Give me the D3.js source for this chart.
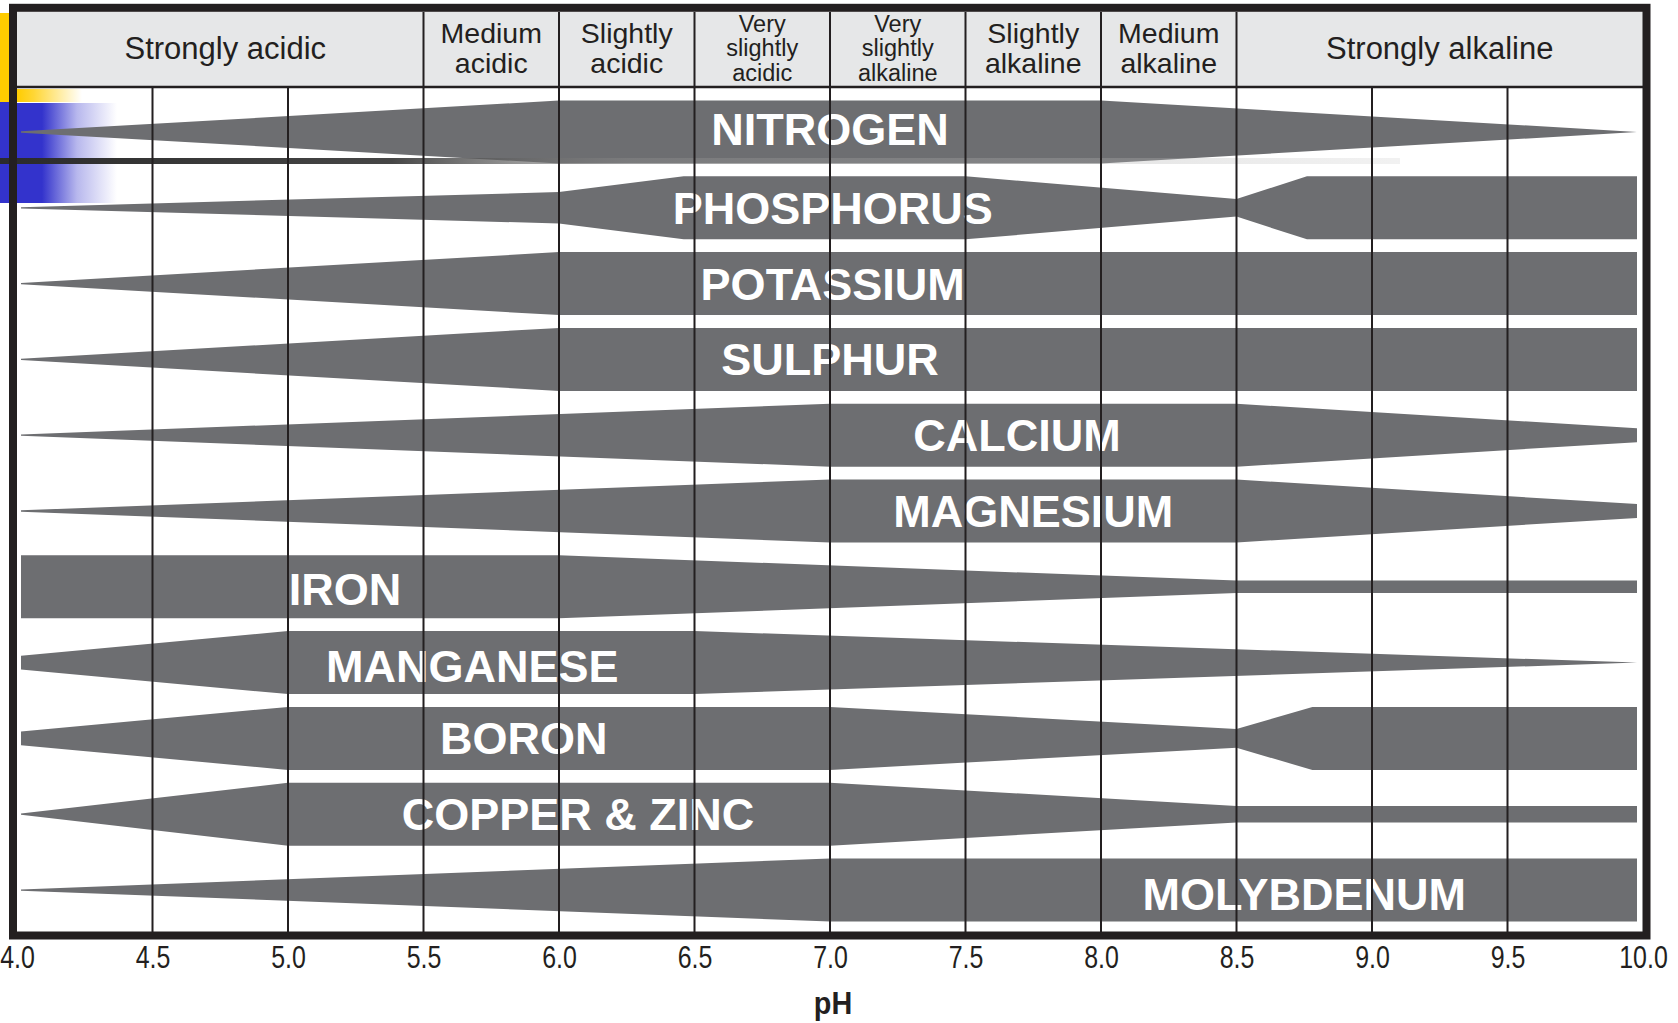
<!DOCTYPE html>
<html><head><meta charset="utf-8">
<script src="https://cdn.jsdelivr.net/npm/d3@7"></script>
<style>body{margin:0;background:#fff} svg{display:block}</style>
</head><body>
<svg id="chart" width="1678" height="1023"></svg>
<script>
// ---------- data ----------
const pHTicks = [4.0, 4.5, 5.0, 5.5, 6.0, 6.5, 7.0, 7.5, 8.0, 8.5, 9.0, 9.5, 10.0];
const zoneBounds = [4.0, 5.5, 6.0, 6.5, 7.0, 7.5, 8.0, 8.5, 10.0];
const zoneNames = [
  ["Strongly acidic"], ["Medium", "acidic"], ["Slightly", "acidic"],
  ["Very", "slightly", "acidic"], ["Very", "slightly", "alkaline"],
  ["Slightly", "alkaline"], ["Medium", "alkaline"], ["Strongly alkaline"]
];
const nutrients = ["NITROGEN", "PHOSPHORUS", "POTASSIUM", "SULPHUR", "CALCIUM", "MAGNESIUM",
  "IRON", "MANGANESE", "BORON", "COPPER & ZINC", "MOLYBDENUM"];
// relative availability (0..1) at pH breakpoints
const availability = [
  [[4, 0.02], [6, 1], [8, 1], [10, 0]],
  [[4, 0.02], [6, 0.5], [6.46, 1], [7.5, 1], [8.5, 0.28], [8.76, 1], [10, 1]],
  [[4, 0.02], [6, 1], [10, 1]],
  [[4, 0.02], [6, 1], [10, 1]],
  [[4, 0.02], [7, 1], [8.5, 1], [10, 0.22]],
  [[4, 0.02], [7, 1], [8.5, 1], [10, 0.22]],
  [[4, 1], [6, 1], [8.5, 0.2], [10, 0.2]],
  [[4, 0.22], [5, 1], [6.5, 1], [10, 0]],
  [[4, 0.22], [5, 1], [7, 1], [8.5, 0.3], [8.78, 1], [10, 1]],
  [[4, 0.02], [5, 1], [7, 1], [8.5, 0.26], [10, 0.26]],
  [[4, 0.02], [7, 1], [10, 1]]
];
const labelPH = [7.0, 7.01, 7.01, 7.0, 7.69, 7.75, 5.21, 5.68, 5.87, 6.07, 8.75];
const axisTitle = "pH";

// ---------- drawing ----------
const INK = "#231f20", BAND = "#6d6e71", HEAD = "#e6e7e8";
const FONT = "'Liberation Sans', Arial, Helvetica, sans-serif";
const svg = d3.select("#chart");
const defs = svg.append("defs");

const x = d3.scaleLinear().domain([4, 10]).range([17, 1643]);
const y = d3.scaleBand().domain(nutrients).range([100.5, 921.5]).paddingInner(0.169).paddingOuter(0);
const w = d3.scaleLinear().domain([0, 1]).range([0, y.bandwidth()]);
const bandLeft = 21, bandRight = 1637;
const bx = v => Math.max(bandLeft, Math.min(bandRight, x(v)));

svg.append("rect").attr("width", 1678).attr("height", 1023).attr("fill", "#fff");

// header background
svg.append("rect").attr("x", x(4)).attr("y", 12).attr("width", x(10) - x(4)).attr("height", 75).attr("fill", HEAD);

// decorative artefacts present in the reference picture
const gY = defs.append("linearGradient").attr("id", "gy");
gY.append("stop").attr("offset", 0).attr("stop-color", "#ffcc00").attr("stop-opacity", 1);
gY.append("stop").attr("offset", 0.25).attr("stop-color", "#ffcc00").attr("stop-opacity", 0.8);
gY.append("stop").attr("offset", 1).attr("stop-color", "#ffcc00").attr("stop-opacity", 0);
const gB = defs.append("linearGradient").attr("id", "gb");
gB.append("stop").attr("offset", 0).attr("stop-color", "#3333cc").attr("stop-opacity", 1);
gB.append("stop").attr("offset", 0.25).attr("stop-color", "#3333cc").attr("stop-opacity", 1);
gB.append("stop").attr("offset", 0.6).attr("stop-color", "#3333cc").attr("stop-opacity", 0.35);
gB.append("stop").attr("offset", 1).attr("stop-color", "#3333cc").attr("stop-opacity", 0);
const gL = defs.append("linearGradient").attr("id", "gl").attr("gradientUnits", "userSpaceOnUse")
  .attr("x1", 0).attr("x2", 1400).attr("y1", 0).attr("y2", 0);
gL.append("stop").attr("offset", 0).attr("stop-color", "#2b2b2b").attr("stop-opacity", 1);
gL.append("stop").attr("offset", 0.28).attr("stop-color", "#3c3c3c").attr("stop-opacity", 0.95);
gL.append("stop").attr("offset", 0.45).attr("stop-color", "#8a8a8a").attr("stop-opacity", 0.45);
gL.append("stop").attr("offset", 1).attr("stop-color", "#c8c8c8").attr("stop-opacity", 0.25);

svg.append("rect").attr("x", 0).attr("y", 13).attr("width", 9).attr("height", 89).attr("fill", "#ffcc00");
svg.append("rect").attr("x", 0).attr("y", 102).attr("width", 9).attr("height", 101).attr("fill", "#3333cc");
svg.append("rect").attr("x", 17).attr("y", 89).attr("width", 65).attr("height", 13).attr("fill", "url(#gy)");
svg.append("rect").attr("x", 17).attr("y", 103).attr("width", 100).attr("height", 100).attr("fill", "url(#gb)");

// bands
const rows = svg.append("g");
nutrients.forEach((n, i) => {
  const cy = y(n) + y.bandwidth() / 2;
  const area = d3.area()
    .x(d => bx(d[0]))
    .y0(d => cy - w(d[1]) / 2)
    .y1(d => cy + w(d[1]) / 2);
  rows.append("path").attr("d", area(availability[i])).attr("fill", BAND);
});

// labels
const nudge = {"NITROGEN": -3, "IRON": 2, "MANGANESE": 3, "MOLYBDENUM": 4};
nutrients.forEach((n, i) => {
  const cy = y(n) + y.bandwidth() / 2;
  svg.append("text")
    .attr("x", x(labelPH[i]))
    .attr("y", cy + 16 + (nudge[n] || 0))
    .attr("text-anchor", "middle")
    .attr("font-family", FONT)
    .attr("font-weight", "bold")
    .attr("font-size", 45)
    .attr("fill", "#fff")
    .text(n);
});

// faint horizontal artefact line
svg.append("rect").attr("x", 0).attr("y", 158).attr("width", 1400).attr("height", 6).attr("fill", "url(#gl)");

// gridlines
const innerTicks = pHTicks.filter(t => t > 4 && t < 10);
svg.append("g").selectAll("line").data(innerTicks).join("line")
  .attr("x1", d => x(d)).attr("x2", d => x(d))
  .attr("y1", 87).attr("y2", 932)
  .attr("stroke", INK).attr("stroke-width", 2);

// header separators & labels
const innerBounds = zoneBounds.slice(1, -1);
svg.append("g").selectAll("line").data(innerBounds).join("line")
  .attr("x1", d => x(d)).attr("x2", d => x(d))
  .attr("y1", 12).attr("y2", 87)
  .attr("stroke", INK).attr("stroke-width", 2);
svg.append("line").attr("x1", x(4)).attr("x2", x(10)).attr("y1", 87).attr("y2", 87)
  .attr("stroke", INK).attr("stroke-width", 2.5);

zoneNames.forEach((lines, i) => {
  const cx = (x(zoneBounds[i]) + x(zoneBounds[i + 1])) / 2 + (i === 0 ? 5 : 0);
  const fs = lines.length === 3 ? 23.5 : (lines.length === 2 ? 28.5 : 31);
  const sp = lines.length === 3 ? 24.5 : 30;
  const capH = 0.716 * fs;
  const t = svg.append("text")
    .attr("text-anchor", "middle")
    .attr("font-family", FONT)
    .attr("font-size", fs)
    .attr("fill", INK);
  lines.forEach((ln, j) => {
    t.append("tspan").attr("x", cx)
      .attr("y", 47.8 + capH / 2 + (j - (lines.length - 1) / 2) * sp)
      .text(ln);
  });
});

// frame
svg.append("rect").attr("x", 13).attr("y", 7.8).attr("width", 1646.5 - 13).attr("height", 935.5 - 7.8)
  .attr("fill", "none").attr("stroke", INK).attr("stroke-width", 8);

// x axis tick labels
const axis = d3.axisBottom(x).tickValues(pHTicks).tickFormat(d3.format(".1f")).tickSize(0).tickPadding(0);
const ag = svg.append("g").attr("transform", "translate(0,968)").call(axis);
ag.select(".domain").remove();
ag.selectAll("text")
  .attr("y", 0).attr("dy", 0)
  .attr("transform", "scale(0.78,1)")
  .attr("font-family", FONT)
  .attr("font-size", 32)
  .attr("fill", INK);

// axis title
svg.append("text")
  .attr("transform", `translate(${x(7) + 3},1014) scale(0.9,1)`)
  .attr("text-anchor", "middle")
  .attr("font-family", FONT)
  .attr("font-weight", "bold")
  .attr("font-size", 32)
  .attr("fill", INK)
  .text(axisTitle);
</script>
</body></html>
